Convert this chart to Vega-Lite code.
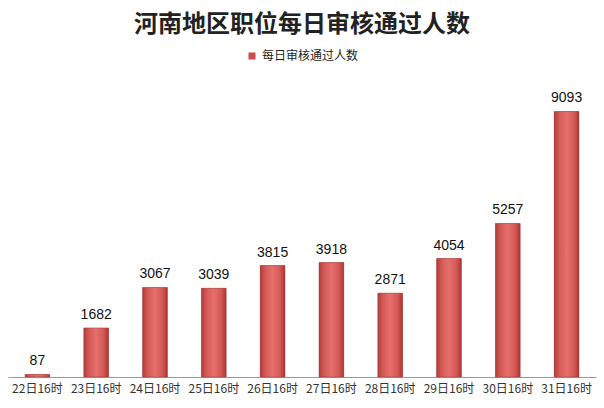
{
  "$schema": "https://vega.github.io/schema/vega-lite/v6.json",
  "autosize": "none",
  "width": 588,
  "height": 292,
  "padding": {"left": 8, "top": 85, "right": 8, "bottom": 31},
  "background": "white",
  "view": {"stroke": null},
  "title": {
    "text": "河南地区职位每日审核通过人数",
    "anchor": "middle",
    "frame": "group",
    "font": "Noto Sans CJK SC",
    "fontSize": 24,
    "fontWeight": "bold",
    "color": "#222222",
    "offset": 13
  },
  "data": {
    "values": [
      {"time": "22日16时", "value": 87, "series": "每日审核通过人数"},
      {"time": "23日16时", "value": 1682, "series": "每日审核通过人数"},
      {"time": "24日16时", "value": 3067, "series": "每日审核通过人数"},
      {"time": "25日16时", "value": 3039, "series": "每日审核通过人数"},
      {"time": "26日16时", "value": 3815, "series": "每日审核通过人数"},
      {"time": "27日16时", "value": 3918, "series": "每日审核通过人数"},
      {"time": "28日16时", "value": 2871, "series": "每日审核通过人数"},
      {"time": "29日16时", "value": 4054, "series": "每日审核通过人数"},
      {"time": "30日16时", "value": 5257, "series": "每日审核通过人数"},
      {"time": "31日16时", "value": 9093, "series": "每日审核通过人数"}
    ]
  },
  "encoding": {
    "x": {
      "field": "time",
      "type": "nominal",
      "sort": null,
      "scale": {"paddingInner": 0.58, "paddingOuter": 0.29},
      "axis": {
        "title": null,
        "labelAngle": 0,
        "labelFont": "Noto Sans CJK SC",
        "labelFontSize": 12,
        "labelColor": "#333333",
        "labelPadding": 6,
        "ticks": false,
        "domainColor": "#999999",
        "domainWidth": 1
      }
    },
    "y": {
      "field": "value",
      "type": "quantitative",
      "scale": {"domain": [0, 10000], "nice": false},
      "axis": null
    }
  },
  "layer": [
    {
      "mark": {"type": "bar"},
      "encoding": {
        "color": {
          "field": "series",
          "type": "nominal",
          "scale": {"range": ["#c9504d"]},
          "legend": {
            "title": null,
            "orient": "none",
            "legendX": 238,
            "legendY": -35,
            "symbolType": "square",
            "symbolSize": 50,
            "labelFont": "Noto Sans CJK SC",
            "labelFontSize": 12,
            "labelColor": "#222222"
          }
        }
      }
    },
    {
      "mark": {
        "type": "bar",
        "stroke": "#a33a38",
        "strokeWidth": 0.5,
        "fill": {
          "gradient": "linear",
          "x1": 0, "y1": 0, "x2": 1, "y2": 0,
          "stops": [
            {"offset": 0, "color": "#b03c3a"},
            {"offset": 0.2, "color": "#d45955"},
            {"offset": 0.5, "color": "#e6706c"},
            {"offset": 0.8, "color": "#d45955"},
            {"offset": 1, "color": "#a83634"}
          ]
        }
      }
    },
    {
      "mark": {
        "type": "text",
        "baseline": "bottom",
        "dy": -6,
        "font": "Liberation Sans",
        "fontSize": 14,
        "color": "#111111"
      },
      "encoding": {"text": {"field": "value", "type": "quantitative"}}
    }
  ]
}
